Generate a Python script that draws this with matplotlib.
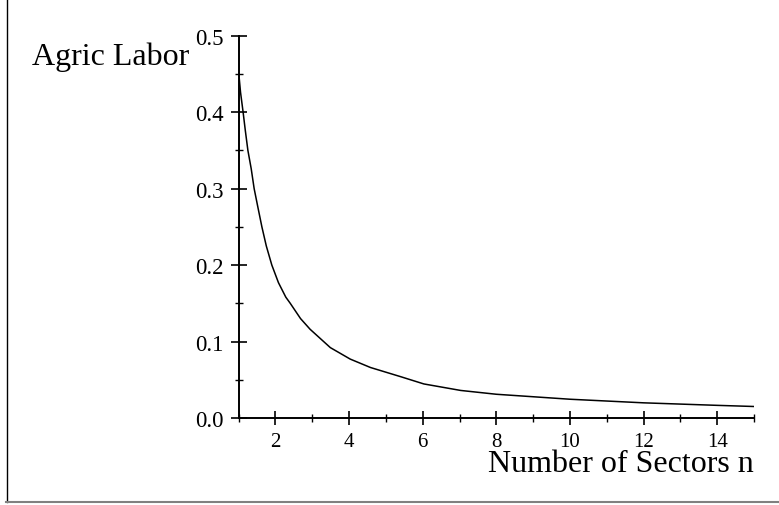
import matplotlib.pyplot as plt
from matplotlib.lines import Line2D
from matplotlib.ticker import MultipleLocator
import numpy as np

# values
sectors_n = [1.00, 1.05, 1.12, 1.18, 1.25, 1.34, 1.42, 1.52, 1.63, 1.75,
             1.90, 2.08, 2.28, 2.40, 2.68, 2.94, 3.49, 4.03, 4.58, 5.40,
             6.03, 7.03, 8.0, 10.0, 12.0, 14.0, 15.0]
agric_labor = [0.452, 0.426, 0.400, 0.376, 0.350, 0.326, 0.300, 0.276, 0.250, 0.225,
               0.200, 0.177, 0.158, 0.150, 0.130, 0.116, 0.092, 0.077, 0.066, 0.054,
               0.0445, 0.036, 0.031, 0.0245, 0.0198, 0.0165, 0.0150]

x_major = [2, 4, 6, 8, 10, 12, 14]
y_major = [0.0, 0.1, 0.2, 0.3, 0.4, 0.5]

plt.rcParams['font.family'] = ['Liberation Serif', 'DejaVu Serif']

fig = plt.figure(figsize=(7.79, 5.06), dpi=100)
ax = fig.add_axes([0.3064, 0.172, 0.968 - 0.3064, 0.9275 - 0.172])

ax.plot(sectors_n, agric_labor, color='black', linewidth=1.1, solid_joinstyle='round')

ax.set_xlim(1, 15)
ax.set_ylim(0, 0.5)

for side in ['top', 'right']:
    ax.spines[side].set_visible(False)
for side in ['left', 'bottom']:
    ax.spines[side].set_linewidth(1.4)

ax.set_xticks(x_major)
ax.set_xticklabels([str(v) for v in x_major])
ax.xaxis.set_minor_locator(MultipleLocator(1))
ax.set_yticks(y_major)
ax.set_yticklabels([f'{v:.1f}' for v in y_major])
ax.yaxis.set_minor_locator(MultipleLocator(0.05))

ax.tick_params(axis='x', which='major', direction='inout', length=10.5, width=1.2,
               labelsize=15, pad=5)
ax.tick_params(axis='x', which='minor', direction='inout', length=6, width=1.0)
ax.tick_params(axis='y', which='major', direction='inout', length=11.5, width=1.2,
               labelsize=16.5, pad=5)
ax.tick_params(axis='y', which='minor', direction='inout', length=6.2, width=1.0)

# axis titles placed like the original (Maple-style)
fig.text(189 / 779, 1 - 65 / 506, 'Agric Labor', fontsize=23, ha='right', va='baseline')
fig.text(754 / 779, 1 - 472 / 506, 'Number of Sectors n', fontsize=23, ha='right', va='baseline')

# outer frame pieces
fig.add_artist(Line2D([6.5 / 779, 6.5 / 779], [1 - 503 / 506, 1], color='black',
                      linewidth=1.0, transform=fig.transFigure))
fig.add_artist(Line2D([6 / 779, 1], [1 - 503 / 506, 1 - 503 / 506], color='#808080',
                      linewidth=1.5, transform=fig.transFigure))

fig.savefig('out.png', dpi=100)
